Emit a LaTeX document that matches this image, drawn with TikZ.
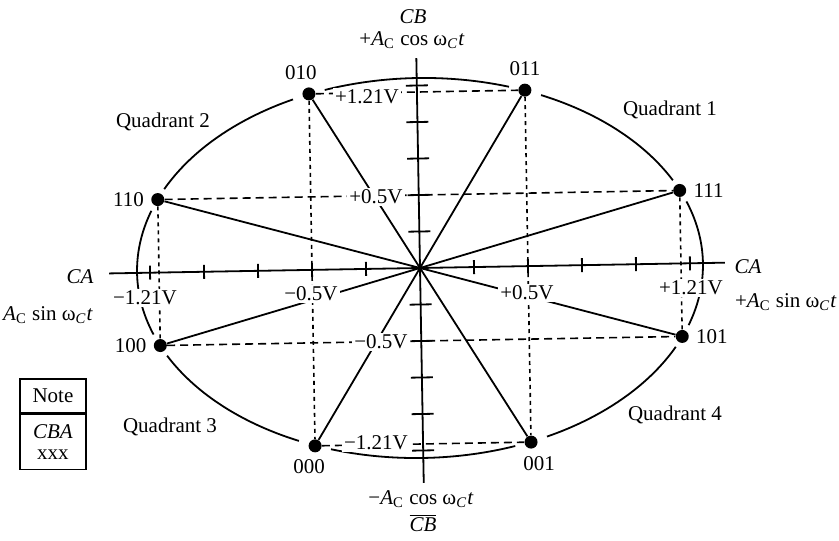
\documentclass[tikz,border=0pt]{standalone}
\usepackage{fontspec}
\setmainfont{Liberation Serif}
\usetikzlibrary{positioning}
\newcommand{\ampC}{\textit{A}\textsubscript{C}}
\newcommand{\omC}{ω\textsubscript{\textit{C}}\textit{t}}

\begin{document}
\begin{tikzpicture}[
  x=0.5pt, y=0.5pt,
  every node/.style={font=\fontsize{10.5}{12}\selectfont},
  dot/.style={circle,fill=black,inner sep=0pt,minimum size=6.5pt},
  axisline/.style={line width=0.9pt},
  spoke/.style={line width=0.9pt},
  ellip/.style={line width=0.9pt},
  hdash/.style={line width=0.8pt,dash pattern=on 4pt off 2.5pt},
  vdash/.style={line width=0.8pt,dash pattern=on 2pt off 2pt},
  vlab/.style={fill=white,inner sep=1pt},
]
\useasboundingbox (-420,-272) rectangle (419,268);

\begin{scope}[rotate=1]
%% Axes
\coordinate (O) at (0,0);
\coordinate (caL) at (-311,0);
\coordinate (caR) at (305,0);
\coordinate (cbT) at (0,210);
\coordinate (cbB) at (0,-215);
\draw[axisline] (caL) -- (caR);
\draw[axisline] (cbB) -- (cbT);
\foreach \k in {1,...,5} {
  \draw[axisline] (\k*54,-7) -- (\k*54,7);
  \draw[axisline] (-\k*54,-7) -- (-\k*54,7);
  \draw[axisline] (-11,\k*36.5) -- (11,\k*36.5);
  \draw[axisline] (-11,-\k*36.5) -- (11,-\k*36.5);
}

%% ── Ellipse, broken at the points ───────────────────────────────────────
\foreach \a [evaluate=\a as \s using \a+3.5,
             evaluate=\a as \e using \a+41.5] in {22.5,67.5,...,337.5} {
  \draw[ellip] plot[domain=\s:\e,samples=40] ({283*cos(\x)},{190*sin(\x)});
}

%% ── Constellation points ────────────────────────────────────────────────
\node[dot,label=right:111] (p111) at (261,73) {};
\node[dot,label=above:011] (p011) at (108,176) {};
\node[dot,label={[xshift=-4pt]above:010}] (p010) at (-108,176) {};
\node[dot,label=left:110] (p110) at (-261,73) {};
\node[dot,label=left:100] (p100) at (-261,-73) {};
\node[dot,label={[xshift=-3pt]below:000}] (p000) at (-108,-176) {};
\node[dot,label={[xshift=4pt]below:001}] (p001) at (108,-176) {};
\node[dot,label=right:101] (p101) at (261,-73) {};

%% Projections
\draw[hdash] (p010) -- (p011);
\draw[hdash] (p110) -- (p111);
\draw[hdash] (p100) -- (p101);
\draw[hdash] (p000) -- (p001);
\draw[vdash] (p010) -- (p000);
\draw[vdash] (p011) -- (p001);
\draw[vdash] (p110) -- (p100);
\draw[vdash] (p111) -- (p101);

%% Phasors
\foreach \p in {p111,p011,p010,p110,p100,p000,p001,p101}
  \draw[spoke] (O) -- (\p);
\end{scope}

%% ── Voltage levels ──────────────────────────────────────────────────────
\node[vlab] (vtop) at (-53,171) {+1.21V};
\node[vlab] (vup) at (-44,71) {+0.5V};
\node[vlab] (vdn) at (-39,-74) {−0.5V};
\node[vlab] (vbot) at (-44,-175) {−1.21V};
\node[vlab] (hfl) at (-275,-30) {−1.21V};
\node[vlab] (hnl) at (-109,-26) {−0.5V};
\node[vlab] (hnr) at (107,-25) {+0.5V};
\node[vlab] (hfr) at (271,-20) {+1.21V};

%% ── Axis names ──────────────────────────────────────────────────────────
\node (cbname) at (-7,251) {\textit{CB}};
\node (cbpos) at (-8,228) {+\ampC{} cos \omC};
\node (cbneg) at (1,-231) {−\ampC{} cos \omC};
\node (cbbar) at (3,-255) {$\overline{\mbox{\textit{CB}}}$};
\node (caleft) at (-340,-9) {\textit{CA}};
\node[anchor=east] (sinneg) at (-320,-47) {\ampC{} sin \omC};
\node (caright) at (328,1) {\textit{CA}};
\node[anchor=east,inner xsep=1pt] (sinpos) at (419,-34) {+\ampC{} sin \omC};

%% Quadrants
\node (q1) at (250,158) {Quadrant 1};
\node (q2) at (-257,146) {Quadrant 2};
\node (q3) at (-250,-159) {Quadrant 3};
\node (q4) at (255,-147) {Quadrant 4};

%% Note box
\node[draw,line width=0.8pt,minimum width=33pt,minimum height=17pt] (note)
  at (-367,-128) {Note};
\node[draw,line width=0.8pt,minimum width=33pt,minimum height=27.5pt,
  align=center,below=0pt of note,font=\fontsize{10.5}{10.5}\selectfont] (notecba)
  {\textit{CBA}\\xxx};

\end{tikzpicture}
\end{document}
